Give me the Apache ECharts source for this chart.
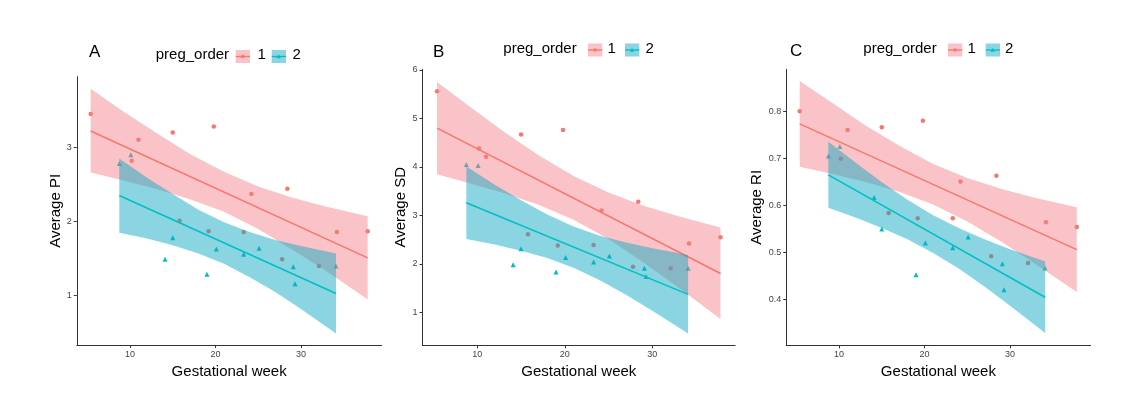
<!DOCTYPE html>
<html>
<head>
<meta charset="utf-8">
<script src="https://cdn.jsdelivr.net/npm/echarts@6/dist/echarts.min.js"></script>
<style>
html, body { margin: 0; padding: 0; background: #fff; }
#chart { width: 1140px; height: 396px; }
</style>
</head>
<body>
<div id="chart"></div>
<script>
// gestational week of every measurement, by pregnancy order
let week1 = [5.4, 10.2, 11.0, 15.0, 15.8, 19.2, 19.8, 23.3, 24.2, 27.8, 28.4, 32.1, 34.2, 37.8];
let week2 = [8.75, 10.1, 14.1, 15.0, 19.0, 20.1, 23.3, 25.1, 29.1, 29.3, 34.1];

// A - pulsatility index
let pi1 = [3.45, 2.82, 3.10, 3.20, 2.01, 1.87, 3.28, 1.86, 2.37, 1.49, 2.44, 1.40, 1.86, 1.87];
let pi2 = [2.78, 2.90, 1.49, 1.78, 1.29, 1.63, 1.56, 1.64, 1.39, 1.16, 1.40];
// B - S/D ratio
let sd1 = [5.56, 4.38, 4.21, 4.67, 2.61, 2.38, 4.76, 2.39, 3.10, 1.94, 3.28, 1.91, 2.42, 2.55];
let sd2 = [4.05, 4.03, 1.98, 2.31, 1.83, 2.13, 2.04, 2.16, 1.91, 1.74, 1.91];
// C - resistance index
let ri1 = [0.800, 0.699, 0.760, 0.766, 0.584, 0.573, 0.780, 0.573, 0.651, 0.492, 0.663, 0.478, 0.564, 0.554];
let ri2 = [0.705, 0.725, 0.617, 0.550, 0.453, 0.520, 0.510, 0.533, 0.476, 0.421, 0.467];

// fitted lines, start and end
let fitWeek1 = [5.4, 37.8];
let fitWeek2 = [8.75, 34.1];
let piFit1 = [3.22, 1.51], piFit2 = [2.35, 1.03];
let sdFit1 = [4.80, 1.80], sdFit2 = [3.26, 1.37];
let riFit1 = [0.773, 0.506], riFit2 = [0.665, 0.405];

// confidence bands read at a few weeks
let bandWeek1 = [5.4, 9, 13, 17, 21, 25, 29, 33, 37.8];
let bandWeek2 = [8.75, 12, 15, 18, 21, 24, 27, 30, 34.1];
let piLow1 = [2.66, 2.56, 2.44, 2.30, 2.13, 1.90, 1.62, 1.33, 0.95];
let piHigh1 = [3.79, 3.50, 3.20, 2.91, 2.67, 2.47, 2.32, 2.20, 2.07];
let piLow2 = [1.85, 1.77, 1.68, 1.57, 1.43, 1.25, 1.05, 0.82, 0.49];
let piHigh2 = [2.85, 2.59, 2.37, 2.16, 1.99, 1.86, 1.75, 1.67, 1.57];
let sdLow1 = [3.85, 3.67, 3.46, 3.22, 2.91, 2.51, 2.03, 1.51, 0.86];
let sdHigh1 = [5.75, 5.26, 4.73, 4.24, 3.81, 3.47, 3.20, 2.98, 2.75];
let sdLow2 = [2.51, 2.40, 2.27, 2.12, 1.92, 1.66, 1.36, 1.03, 0.56];
let sdHigh2 = [4.01, 3.63, 3.31, 3.02, 2.77, 2.58, 2.44, 2.32, 2.18];
let riLow1 = [0.682, 0.668, 0.650, 0.629, 0.602, 0.566, 0.523, 0.475, 0.416];
let riHigh1 = [0.864, 0.820, 0.771, 0.727, 0.688, 0.658, 0.635, 0.616, 0.596];
let riLow2 = [0.595, 0.574, 0.552, 0.528, 0.499, 0.466, 0.428, 0.387, 0.329];
let riHigh2 = [0.735, 0.690, 0.649, 0.612, 0.579, 0.552, 0.528, 0.507, 0.481];

// tick labels
let weekTicks = [10, 20, 30];
let piTicks = [1, 2, 3];
let sdTicks = [1, 2, 3, 4, 5, 6];
let riTicks = [0.4, 0.5, 0.6, 0.7, 0.8];

let font = '"Liberation Sans", Arial, sans-serif';
let red = '#F8766D', teal = '#00BFC4';
let pinkFill = 'rgba(245,130,140,0.48)', tealFill = 'rgba(10,168,192,0.48)';

let panels = [
    {letter: 'A', yName: 'Average PI', yTicks: piTicks, yMin: 0.336, yMax: 3.951, xMin: 3.78, xMax: 39.42,
     grid: {left: 76.8, top: 76.7, width: 304.7, height: 268.3}, nameGap: 11,
     v1: pi1, v2: pi2, fit1: piFit1, fit2: piFit2, lo1: piLow1, hi1: piHigh1, lo2: piLow2, hi2: piHigh2,
     letterPos: [89, 52], legendY: 55, legendX: [155.7, 235.7, 257.5, 271.7, 292.5]},
    {letter: 'B', yName: 'Average SD', yTicks: sdTicks, yMin: 0.319, yMax: 6.014, xMin: 3.74, xMax: 39.47,
     grid: {left: 422.5, top: 69.3, width: 312.6, height: 276}, nameGap: 8,
     v1: sd1, v2: sd2, fit1: sdFit1, fit2: sdFit2, lo1: sdLow1, hi1: sdHigh1, lo2: sdLow2, hi2: sdHigh2,
     letterPos: [433, 52.5], legendY: 48.5, legendX: [503.3, 588, 607.5, 625, 645.5]},
    {letter: 'C', yName: 'Average RI', yTicks: riTicks, yMin: 0.303, yMax: 0.889, xMin: 3.82, xMax: 39.42,
     grid: {left: 786.2, top: 69.3, width: 304.4, height: 276}, nameGap: 16,
     v1: ri1, v2: ri2, fit1: riFit1, fit2: riFit2, lo1: riLow1, hi1: riHigh1, lo2: riLow2, hi2: riHigh2,
     letterPos: [790, 51.5], legendY: 48.5, legendX: [863.3, 948, 967.5, 985.7, 1005]}
];

function band(i, name, weeks, low, high, fill, z) {
    return {
        type: 'custom', name: name, xAxisIndex: i, yAxisIndex: i, z: z, silent: true,
        data: weeks.map((w, k) => [w, low[k], high[k]]),
        encode: {x: 0, y: [1, 2]},
        renderItem: (params, api) => {
            if (params.dataIndex !== 0) return;
            let pts = weeks.map((w, k) => api.coord([w, high[k]]));
            for (let k = weeks.length - 1; k >= 0; k--) pts.push(api.coord([weeks[k], low[k]]));
            return {type: 'polygon', shape: {points: pts}, style: {fill: fill}};
        }
    };
}

function legendKey(x, y, fill, color, triangle) {
    let mark = triangle
        ? {type: 'polygon', shape: {points: [[7, 4.3], [9.2, 8.2], [4.8, 8.2]]}, style: {fill: color}}
        : {type: 'circle', shape: {cx: 7, cy: 6.5, r: 1.7}, style: {fill: color}};
    return {
        type: 'group', x: x, y: y,
        children: [
            {type: 'rect', shape: {x: 0, y: 0, width: 14.3, height: 13}, style: {fill: fill}},
            {type: 'line', shape: {x1: 0, y1: 6.5, x2: 14.3, y2: 6.5}, style: {stroke: color, lineWidth: 1.3}},
            mark
        ]
    };
}

function label(text, x, y, size) {
    return {type: 'text', x: x, y: y, style: {text: text, fill: '#000', fontSize: size, fontFamily: font,
        align: 'left', verticalAlign: 'middle'}};
}

let tickText = {fontSize: 9, color: '#444', margin: 5, fontFamily: font};

let grids = [], xAxes = [], yAxes = [], series = [], graphics = [];
panels.forEach((p, i) => {
    grids.push(Object.assign({containLabel: false}, p.grid));
    xAxes.push({
        gridIndex: i, type: 'value', min: p.xMin, max: p.xMax,
        name: 'Gestational week', nameLocation: 'middle', nameGap: 18,
        nameTextStyle: {fontSize: 15, color: '#000', fontFamily: font},
        axisLine: {show: true, onZero: false, lineStyle: {color: '#333', width: 1}},
        axisTick: {show: true, length: 3, customValues: weekTicks, lineStyle: {color: '#333'}},
        axisLabel: Object.assign({customValues: weekTicks}, tickText),
        splitLine: {show: false}
    });
    yAxes.push({
        gridIndex: i, type: 'value', min: p.yMin, max: p.yMax,
        name: p.yName, nameLocation: 'middle', nameGap: p.nameGap, nameRotate: 90,
        nameTextStyle: {fontSize: 15, color: '#000', fontFamily: font},
        axisLine: {show: true, onZero: false, lineStyle: {color: '#333', width: 1}},
        axisTick: {show: true, length: 3, customValues: p.yTicks, lineStyle: {color: '#333'}},
        axisLabel: Object.assign({customValues: p.yTicks}, tickText),
        splitLine: {show: false}
    });
    series.push(
        {type: 'scatter', name: '1', xAxisIndex: i, yAxisIndex: i, z: 2, symbol: 'circle', symbolSize: 4.5,
         itemStyle: {color: red, opacity: 1}, data: week1.map((w, k) => [w, p.v1[k]])},
        {type: 'scatter', name: '2', xAxisIndex: i, yAxisIndex: i, z: 2, symbol: 'triangle', symbolSize: 5,
         itemStyle: {color: teal, opacity: 1}, data: week2.map((w, k) => [w, p.v2[k]])},
        band(i, 'band1', bandWeek1, p.lo1, p.hi1, pinkFill, 3),
        {type: 'line', name: 'fit1', xAxisIndex: i, yAxisIndex: i, z: 4, showSymbol: false, silent: true,
         lineStyle: {color: red, width: 1.5}, data: fitWeek1.map((w, k) => [w, p.fit1[k]])},
        band(i, 'band2', bandWeek2, p.lo2, p.hi2, tealFill, 5),
        {type: 'line', name: 'fit2', xAxisIndex: i, yAxisIndex: i, z: 6, showSymbol: false, silent: true,
         lineStyle: {color: teal, width: 1.5}, data: fitWeek2.map((w, k) => [w, p.fit2[k]])}
    );
    let lx = p.legendX, ly = p.legendY;
    graphics.push(
        label(p.letter, p.letterPos[0], p.letterPos[1], 17),
        label('preg_order', lx[0], ly, 15),
        legendKey(lx[1], ly - 5, pinkFill, red, false),
        label('1', lx[2], ly, 15),
        legendKey(lx[3], ly - 5, tealFill, teal, true),
        label('2', lx[4], ly, 15)
    );
});

let chart = echarts.init(document.getElementById('chart'), null, {renderer: 'canvas'});
chart.setOption({
    animation: false,
    backgroundColor: '#fff',
    grid: grids,
    xAxis: xAxes,
    yAxis: yAxes,
    series: series,
    graphic: {elements: graphics}
});
window.onresize = () => { chart.resize(); };
</script>
</body>
</html>
